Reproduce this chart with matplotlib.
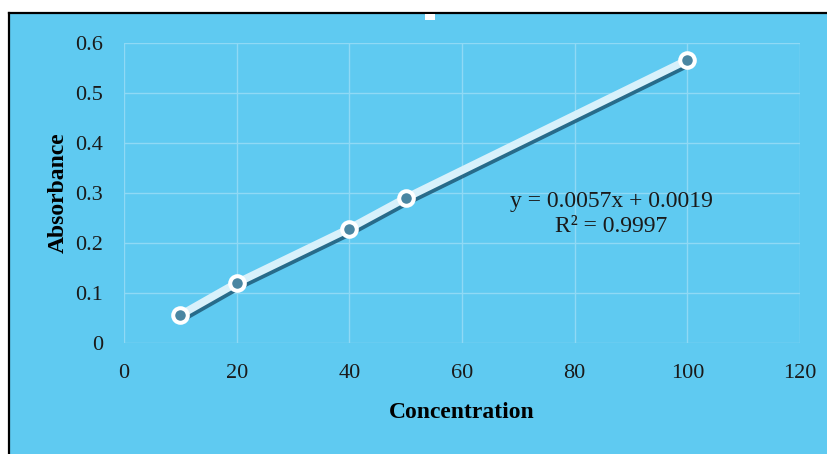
import matplotlib
matplotlib.use("Agg")
import matplotlib.pyplot as plt
import matplotlib.patheffects as pe
from matplotlib.patches import Rectangle
from matplotlib.lines import Line2D

concentration = [10, 20, 40, 50, 100]
absorbance = [0.056, 0.120, 0.229, 0.290, 0.566]
x_ticks = [0, 20, 40, 60, 80, 100, 120]
y_ticks = [0, 0.1, 0.2, 0.3, 0.4, 0.5, 0.6]
y_tick_labels = ["0", "0.1", "0.2", "0.3", "0.4", "0.5", "0.6"]
equation = "y = 0.0057x + 0.0019\nR² = 0.9997"

bg = "#5fcaf1"
grid_col = "#8fd9f5"
serif = ["Liberation Serif", "DejaVu Serif"]

fig = plt.figure(figsize=(8.27, 4.54), dpi=100)
fig.patch.set_facecolor("white")

# chart area with a black frame on the top and left
fig.patches.append(Rectangle((10 / 827, 0), 1, 1 - 14 / 454, transform=fig.transFigure,
                             facecolor=bg, edgecolor="none", zorder=-10))
fig.lines.append(Line2D([9 / 827, 1], [1 - 13 / 454, 1 - 13 / 454], transform=fig.transFigure,
                        color="black", lw=1.6, zorder=-5))
fig.lines.append(Line2D([9 / 827, 9 / 827], [0, 1 - 13 / 454], transform=fig.transFigure,
                        color="black", lw=1.6, zorder=-5))
fig.patches.append(Rectangle((425 / 827, 1 - 20 / 454), 10 / 827, 6 / 454, transform=fig.transFigure,
                             facecolor="white", edgecolor="none", zorder=-5))

ax = fig.add_axes([124 / 827, 111 / 454, 676 / 827, 300 / 454])
ax.set_facecolor(bg)
ax.set_xlim(0, 120)
ax.set_ylim(0, 0.6)
ax.set_xticks(x_ticks)
ax.set_yticks(y_ticks)
ax.set_yticklabels(y_tick_labels)
ax.grid(True, color=grid_col, lw=1.0)
ax.set_axisbelow(True)
for s in ax.spines.values():
    s.set_visible(False)
ax.tick_params(length=0, labelsize=16, labelcolor="#1a1a1a")
ax.tick_params(axis="y", pad=15)
ax.tick_params(axis="x", pad=15)
for lab in ax.get_xticklabels() + ax.get_yticklabels():
    lab.set_family(serif)

ax.plot(concentration, absorbance, color="#d8f1fb", lw=5.5, solid_capstyle="round", zorder=3,
        path_effects=[pe.SimpleLineShadow(offset=(1.2, -2.4), shadow_color="#1d5a78", alpha=0.85),
                      pe.Normal()])
ax.plot(concentration, absorbance, ls="none", marker="o", ms=10.5, mew=2.9,
        mfc="#4a86a2", mec="white", zorder=4, clip_on=False)

ax.text(86.5, 0.257, equation, ha="center", va="center", fontsize=17,
        family=serif, color="#1a1a1a", linespacing=1.25)

ax.set_xlabel("Concentration", family=serif, fontsize=17, fontweight="bold", labelpad=14)
ax.set_ylabel("Absorbance", family=serif, fontsize=17, fontweight="bold", labelpad=5)

fig.savefig("out.png", dpi=100, facecolor=fig.get_facecolor())
